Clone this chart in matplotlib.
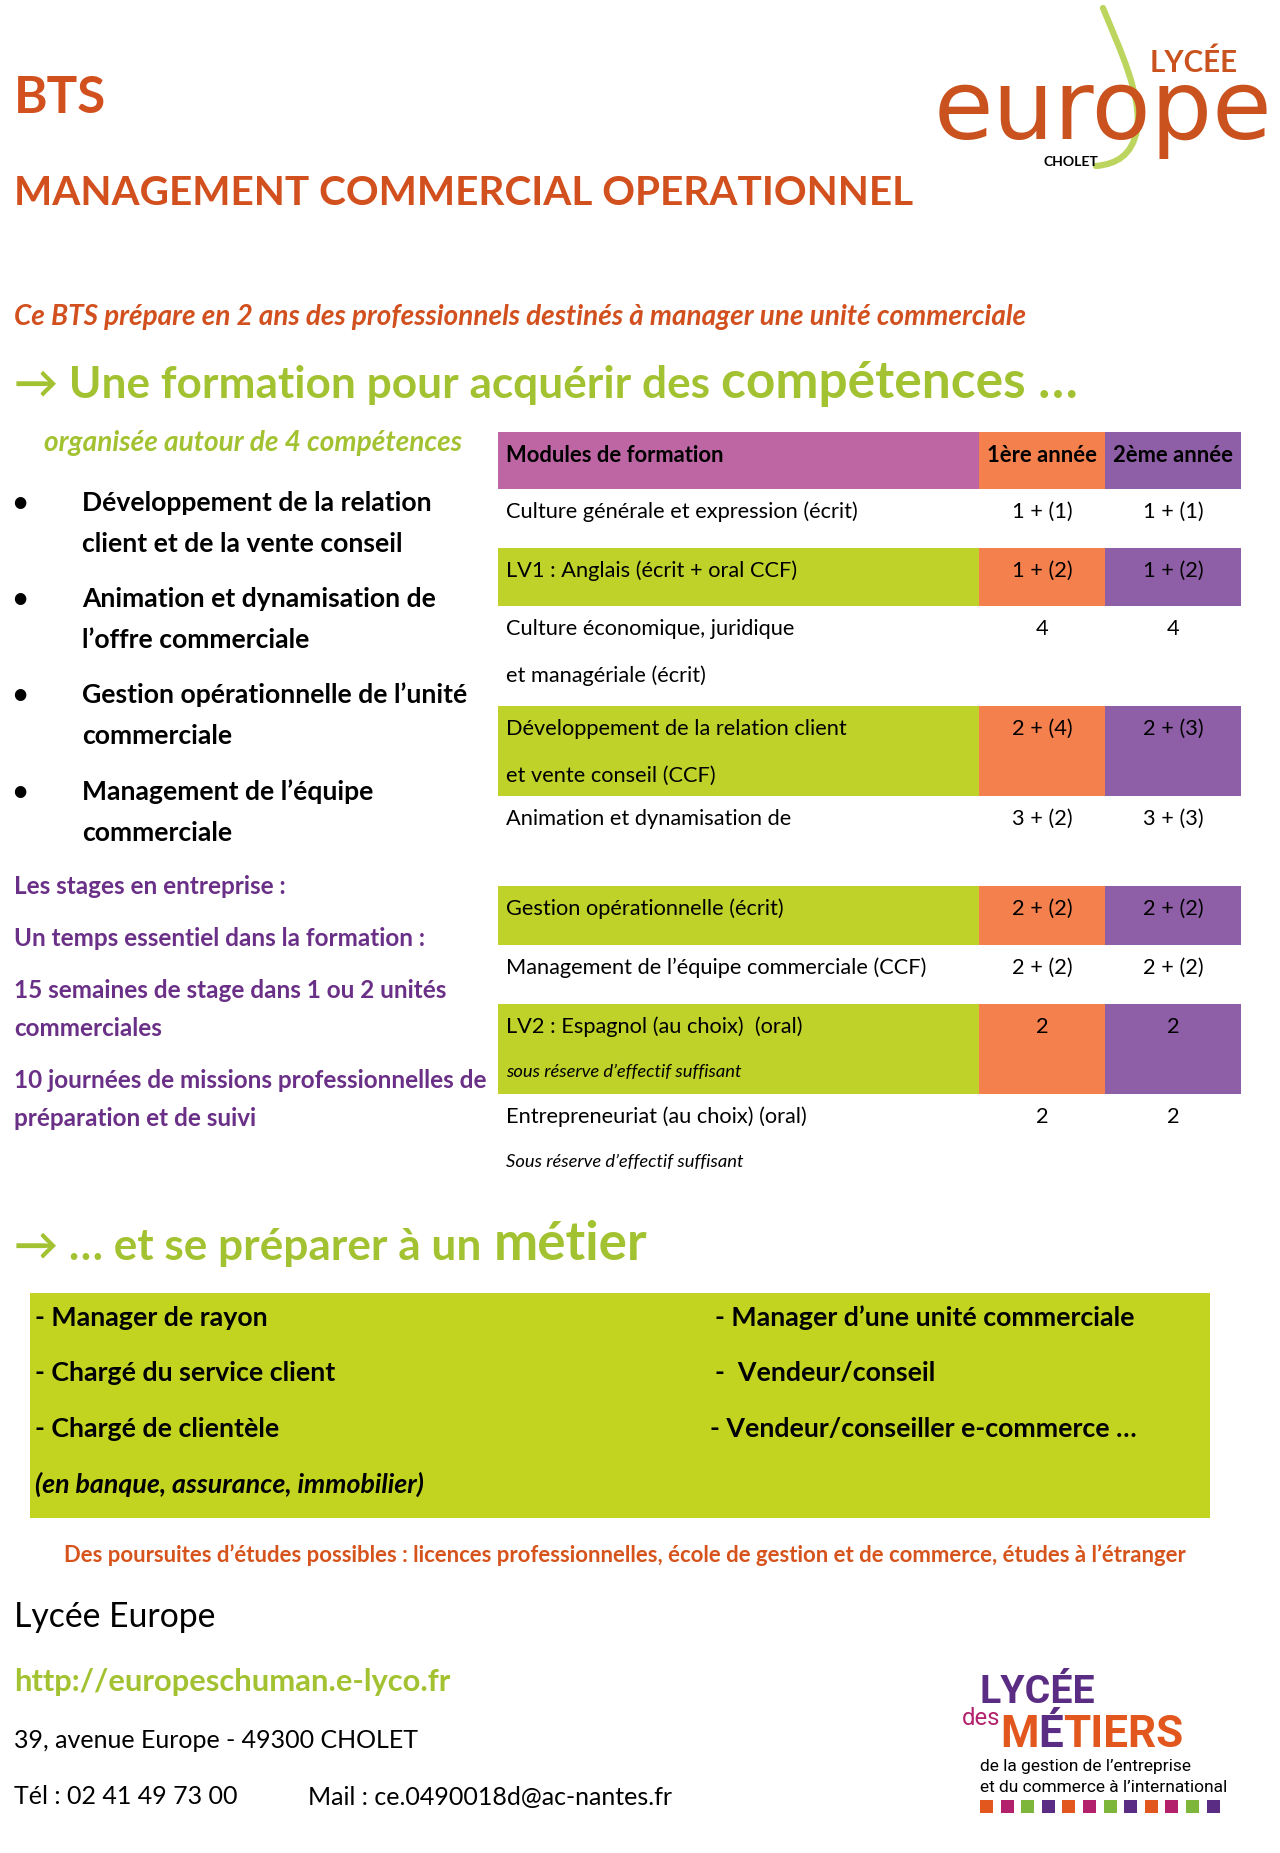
import matplotlib
matplotlib.use("Agg")
import matplotlib.pyplot as plt
from matplotlib import font_manager as fm
from matplotlib.patches import Rectangle, PathPatch
from matplotlib.path import Path

# ---------------- data ----------------
title_small = "BTS"
title_main = "MANAGEMENT COMMERCIAL OPERATIONNEL"
subtitle = "Ce BTS prépare en 2 ans des professionnels destinés à manager une unité commerciale"
heading1 = ("→ Une formation pour acquérir des", "compétences …")
heading1_sub = "organisée autour de 4 compétences"
competences = [
    ("Développement de la relation", "client et de la vente conseil"),
    ("Animation et dynamisation de", "l’offre commerciale"),
    ("Gestion opérationnelle de l’unité", "commerciale"),
    ("Management de l’équipe", "commerciale"),
]
stages = [
    ("Les stages en entreprise :",),
    ("Un temps essentiel dans la formation :",),
    ("15 semaines de stage dans 1 ou 2 unités", "commerciales"),
    ("10 journées de missions professionnelles de", "préparation et de suivi"),
]
table_header = ["Modules de formation", "1ère année", "2ème année"]
modules = [
    ("Culture générale et expression (écrit)",),
    ("LV1 : Anglais (écrit + oral CCF)",),
    ("Culture économique, juridique", "et managériale (écrit)"),
    ("Développement de la relation client", "et vente conseil (CCF)"),
    ("Animation et dynamisation de",),
    ("Gestion opérationnelle (écrit)",),
    ("Management de l’équipe commerciale (CCF)",),
    ("LV2 : Espagnol (au choix)  (oral)",),
    ("Entrepreneuriat (au choix) (oral)",),
]
module_notes = ["", "", "", "", "", "", "", "sous réserve d’effectif suffisant", ""]
hours_year1 = ["1 + (1)", "1 + (2)", "4", "2 + (4)", "3 + (2)", "2 + (2)", "2 + (2)", "2", "2"]
hours_year2 = ["1 + (1)", "1 + (2)", "4", "2 + (3)", "3 + (3)", "2 + (2)", "2 + (2)", "2", "2"]
row_highlight = [False, True, False, True, False, True, False, True, False]
table_footnote = "Sous réserve d’effectif suffisant"
heading2 = ("→ … et se préparer à un", "métier")
metiers_left = ["- Manager de rayon", "- Chargé du service client", "- Chargé de clientèle"]
metiers_left_note = "(en banque, assurance, immobilier)"
metiers_right = ["- Manager d’une unité commerciale", "-  Vendeur/conseil", "- Vendeur/conseiller e-commerce …"]
poursuites = "Des poursuites d’études possibles : licences professionnelles, école de gestion et de commerce, études à l’étranger"
contact_name = "Lycée Europe"
contact_url = "http://europeschuman.e-lyco.fr"
contact_addr = "39, avenue Europe - 49300 CHOLET"
contact_tel = "Tél : 02 41 49 73 00"
contact_mail = "Mail : ce.0490018d@ac-nantes.fr"
logo2_lines = ["de la gestion de l’entreprise", "et du commerce à l’international"]

# ---------------- styles ----------------
ORANGE_T = "#D24F1E"
GREEN_T = "#A3C232"
PURPLE_T = "#6A2F86"
MAGENTA_H = "#BE65A4"
ORANGE_C = "#F4804D"
PURPLE_C = "#8E5EA6"
GREEN_C = "#BED22A"
GREEN_BOX = "#C2D420"


def has_font(name):
    try:
        fm.findfont(fm.FontProperties(family=name), fallback_to_default=False)
        return True
    except Exception:
        return False


CAL = [f for f in ["Lato", "Open Sans"] if has_font(f)][:1] + ["DejaVu Sans"]
NARROW = [f for f in ["Liberation Sans Narrow", "Roboto"] if has_font(f)][:1] + ["DejaVu Sans"]

fig = plt.figure(figsize=(12.8, 18.53), dpi=100)
ax = fig.add_axes([0, 0, 1, 1])
ax.set_xlim(0, 1280)
ax.set_ylim(1853, 0)
ax.axis("off")
renderer = fig.canvas.get_renderer()


def width_of(s, size, **kw):
    t = ax.text(0, 0, s, fontsize=size, **kw)
    w = t.get_window_extent(renderer).width
    t.remove()
    return w


def fit(s, width, **kw):
    return 20.0 * width / width_of(s, 20.0, **kw)


def put(x, y, s, size, ha="left", va="center", **kw):
    return ax.text(x, y, s, fontsize=size, ha=ha, va=va, **kw)


# ---------------- header ----------------
kw = dict(family=CAL, weight="bold", color=ORANGE_T)
put(14, 113, title_small, fit(title_small, 92, **kw), va="baseline", **kw)
put(14, 205, title_main, fit(title_main, 900, **kw), va="baseline", **kw)

kw = dict(family=CAL, weight="bold", style="italic", color=ORANGE_T)
put(14, 317, subtitle, fit(subtitle, 1012, **kw), **kw)

kw = dict(family=CAL, weight="bold", color=GREEN_T)
put(14, 398, heading1[0], fit(heading1[0], 695, **kw), va="baseline", **kw)
put(721, 398, heading1[1], fit(heading1[1], 357, **kw), va="baseline", **kw)

kw = dict(family=CAL, weight="bold", style="italic", color=GREEN_T)
put(44, 443, heading1_sub, fit(heading1_sub, 417, **kw), **kw)

# logo "europe"
swoosh = Path([(1103, 8), (1120, 50), (1142, 95), (1137, 130),
               (1132, 155), (1117, 164), (1096, 166)],
              [Path.MOVETO, Path.CURVE4, Path.CURVE4, Path.CURVE4,
               Path.CURVE4, Path.CURVE4, Path.CURVE4])
ax.add_patch(PathPatch(swoosh, fill=False, edgecolor="#BCD55E", lw=4.5, capstyle="round"))
kw = dict(family=CAL, weight="bold", color="#C9521E")
put(1150, 63, "LYCÉE", fit("LYCÉE", 88, **kw), **kw)
kw = dict(family=["DejaVu Sans"], weight="normal", color="#C9521E")
put(934, 139, "europe", fit("europe", 338, **kw), va="baseline", **kw)
kw = dict(family=CAL, weight="bold", color="black")
put(1043, 162, "CHOLET", fit("CHOLET", 55, **kw), **kw)

# ---------------- competences (left) ----------------
kw = dict(family=CAL, weight="bold", color="black")
comp_size = fit(competences[0][0], 349, **kw)
comp_y = [503, 599, 695, 792]
for (lines, y) in zip(competences, comp_y):
    put(20, y, "•", comp_size, ha="center", **kw)
    for k, line in enumerate(lines):
        put(82, y + 41 * k, line, comp_size, **kw)

kw = dict(family=CAL, weight="bold", color=PURPLE_T)
st_size = fit(stages[3][0], 473, **kw)
st_y = [886, 938, 990, 1080]
for (lines, y) in zip(stages, st_y):
    for k, line in enumerate(lines):
        put(14, y + 38 * k, line, st_size, **kw)

# ---------------- table ----------------
x0, x1, x2, x3 = 498, 979, 1105, 1241
hdr_top, hdr_bot = 432, 489
row_heights = [59, 58, 100, 90, 90, 59, 59, 90, 46]
ax.add_patch(Rectangle((x0, hdr_top), x1 - x0, hdr_bot - hdr_top, color=MAGENTA_H, lw=0))
ax.add_patch(Rectangle((x1, hdr_top), x2 - x1, hdr_bot - hdr_top, color=ORANGE_C, lw=0))
ax.add_patch(Rectangle((x2, hdr_top), x3 - x2, hdr_bot - hdr_top, color=PURPLE_C, lw=0))
kw = dict(family=CAL, weight="bold", color="black")
hsize = fit(table_header[0], 217, **kw)
put(506, 456, table_header[0], hsize, **kw)
put((x1 + x2) / 2, 456, table_header[1], hsize, ha="center", **kw)
put((x2 + x3) / 2, 456, table_header[2], hsize, ha="center", **kw)

kw = dict(family=CAL, color="black")
tsize = fit(modules[0][0], 354, **kw)
kwi = dict(family=CAL, style="italic", color="black")
nsize = fit(table_footnote, 237, **kwi)
top = hdr_bot
for i, h in enumerate(row_heights):
    if row_highlight[i]:
        ax.add_patch(Rectangle((x0, top), x1 - x0, h, color=GREEN_C, lw=0))
        ax.add_patch(Rectangle((x1, top), x2 - x1, h, color=ORANGE_C, lw=0))
        ax.add_patch(Rectangle((x2, top), x3 - x2, h, color=PURPLE_C, lw=0))
    ty = top + 23
    for k, line in enumerate(modules[i]):
        put(506, ty + 47 * k, line, tsize, **kw)
    if module_notes[i]:
        put(506, ty + 45, module_notes[i], nsize, **kwi)
    put((x1 + x2) / 2, ty, hours_year1[i], tsize, ha="center", **kw)
    put((x2 + x3) / 2, ty, hours_year2[i], tsize, ha="center", **kw)
    top += h
put(506, 1162, table_footnote, nsize, **kwi)

# ---------------- metier ----------------
kw = dict(family=CAL, weight="bold", color=GREEN_T)
put(14, 1260, heading2[0], fit(heading2[0], 467, **kw), va="baseline", **kw)
put(494, 1260, heading2[1], fit(heading2[1], 154, **kw), va="baseline", **kw)

ax.add_patch(Rectangle((30, 1293), 1180, 225, color=GREEN_BOX, lw=0))
kw = dict(family=CAL, weight="bold", color="black")
msize = fit(metiers_right[0], 419, **kw)
my = [1318, 1373, 1429]
for s, y in zip(metiers_left, my):
    put(35, y, s, msize, **kw)
put(35, 1484, metiers_left_note, msize, style="italic", **kw)
for s, y, x in zip(metiers_right, my, [715, 715, 710]):
    put(x, y, s, msize, **kw)

kw = dict(family=CAL, weight="bold", color="#D6531C")
put(64, 1555, poursuites, fit(poursuites, 1119, **kw), **kw)

# ---------------- contact ----------------
kw = dict(family=CAL, color="black")
put(14, 1617, contact_name, fit(contact_name, 202, **kw), **kw)
csize = fit(contact_addr, 406, **kw)
put(14, 1741, contact_addr, csize, **kw)
put(14, 1797, contact_tel, csize, **kw)
put(308, 1797, contact_mail, csize, **kw)
kwg = dict(family=CAL, weight="bold", color=GREEN_T)
put(14, 1682, contact_url, fit(contact_url, 436, **kwg), **kwg)

# ---------------- logo lycée des métiers ----------------
LP, LO, LM, LG = "#5A2C84", "#E2571E", "#B3206C", "#7DB63A"
kw = dict(family=NARROW, weight="bold", color=LP)
put(980, 1703, "LYCÉE", fit("LYCÉE", 115, **kw), va="baseline", **kw)
kw = dict(family=NARROW, color=LM)
put(962, 1725, "des", fit("des", 38, **kw), va="baseline", **kw)
kwo = dict(family=NARROW, weight="bold", color=LO)
msz = fit("MÉTIERS", 183, **kwo)
xx = 1000
for part, col in [("M", LO), ("É", LP), ("TIERS", LO)]:
    kwp = dict(kwo)
    kwp["color"] = col
    put(xx, 1747, part, msz, va="baseline", **kwp)
    xx += width_of(part, msz, **kwp)
kw = dict(family=NARROW, color="black")
lsz = fit(logo2_lines[1], 247, **kw)
put(980, 1766, logo2_lines[0], lsz, **kw)
put(980, 1788, logo2_lines[1], lsz, **kw)
square_colors = [LO, LM, LG, LP] * 3
for i, c in enumerate(square_colors):
    ax.add_patch(Rectangle((980 + i * 20.6, 1800), 13, 13, color=c, lw=0))

fig.savefig("out.png", dpi=100)
